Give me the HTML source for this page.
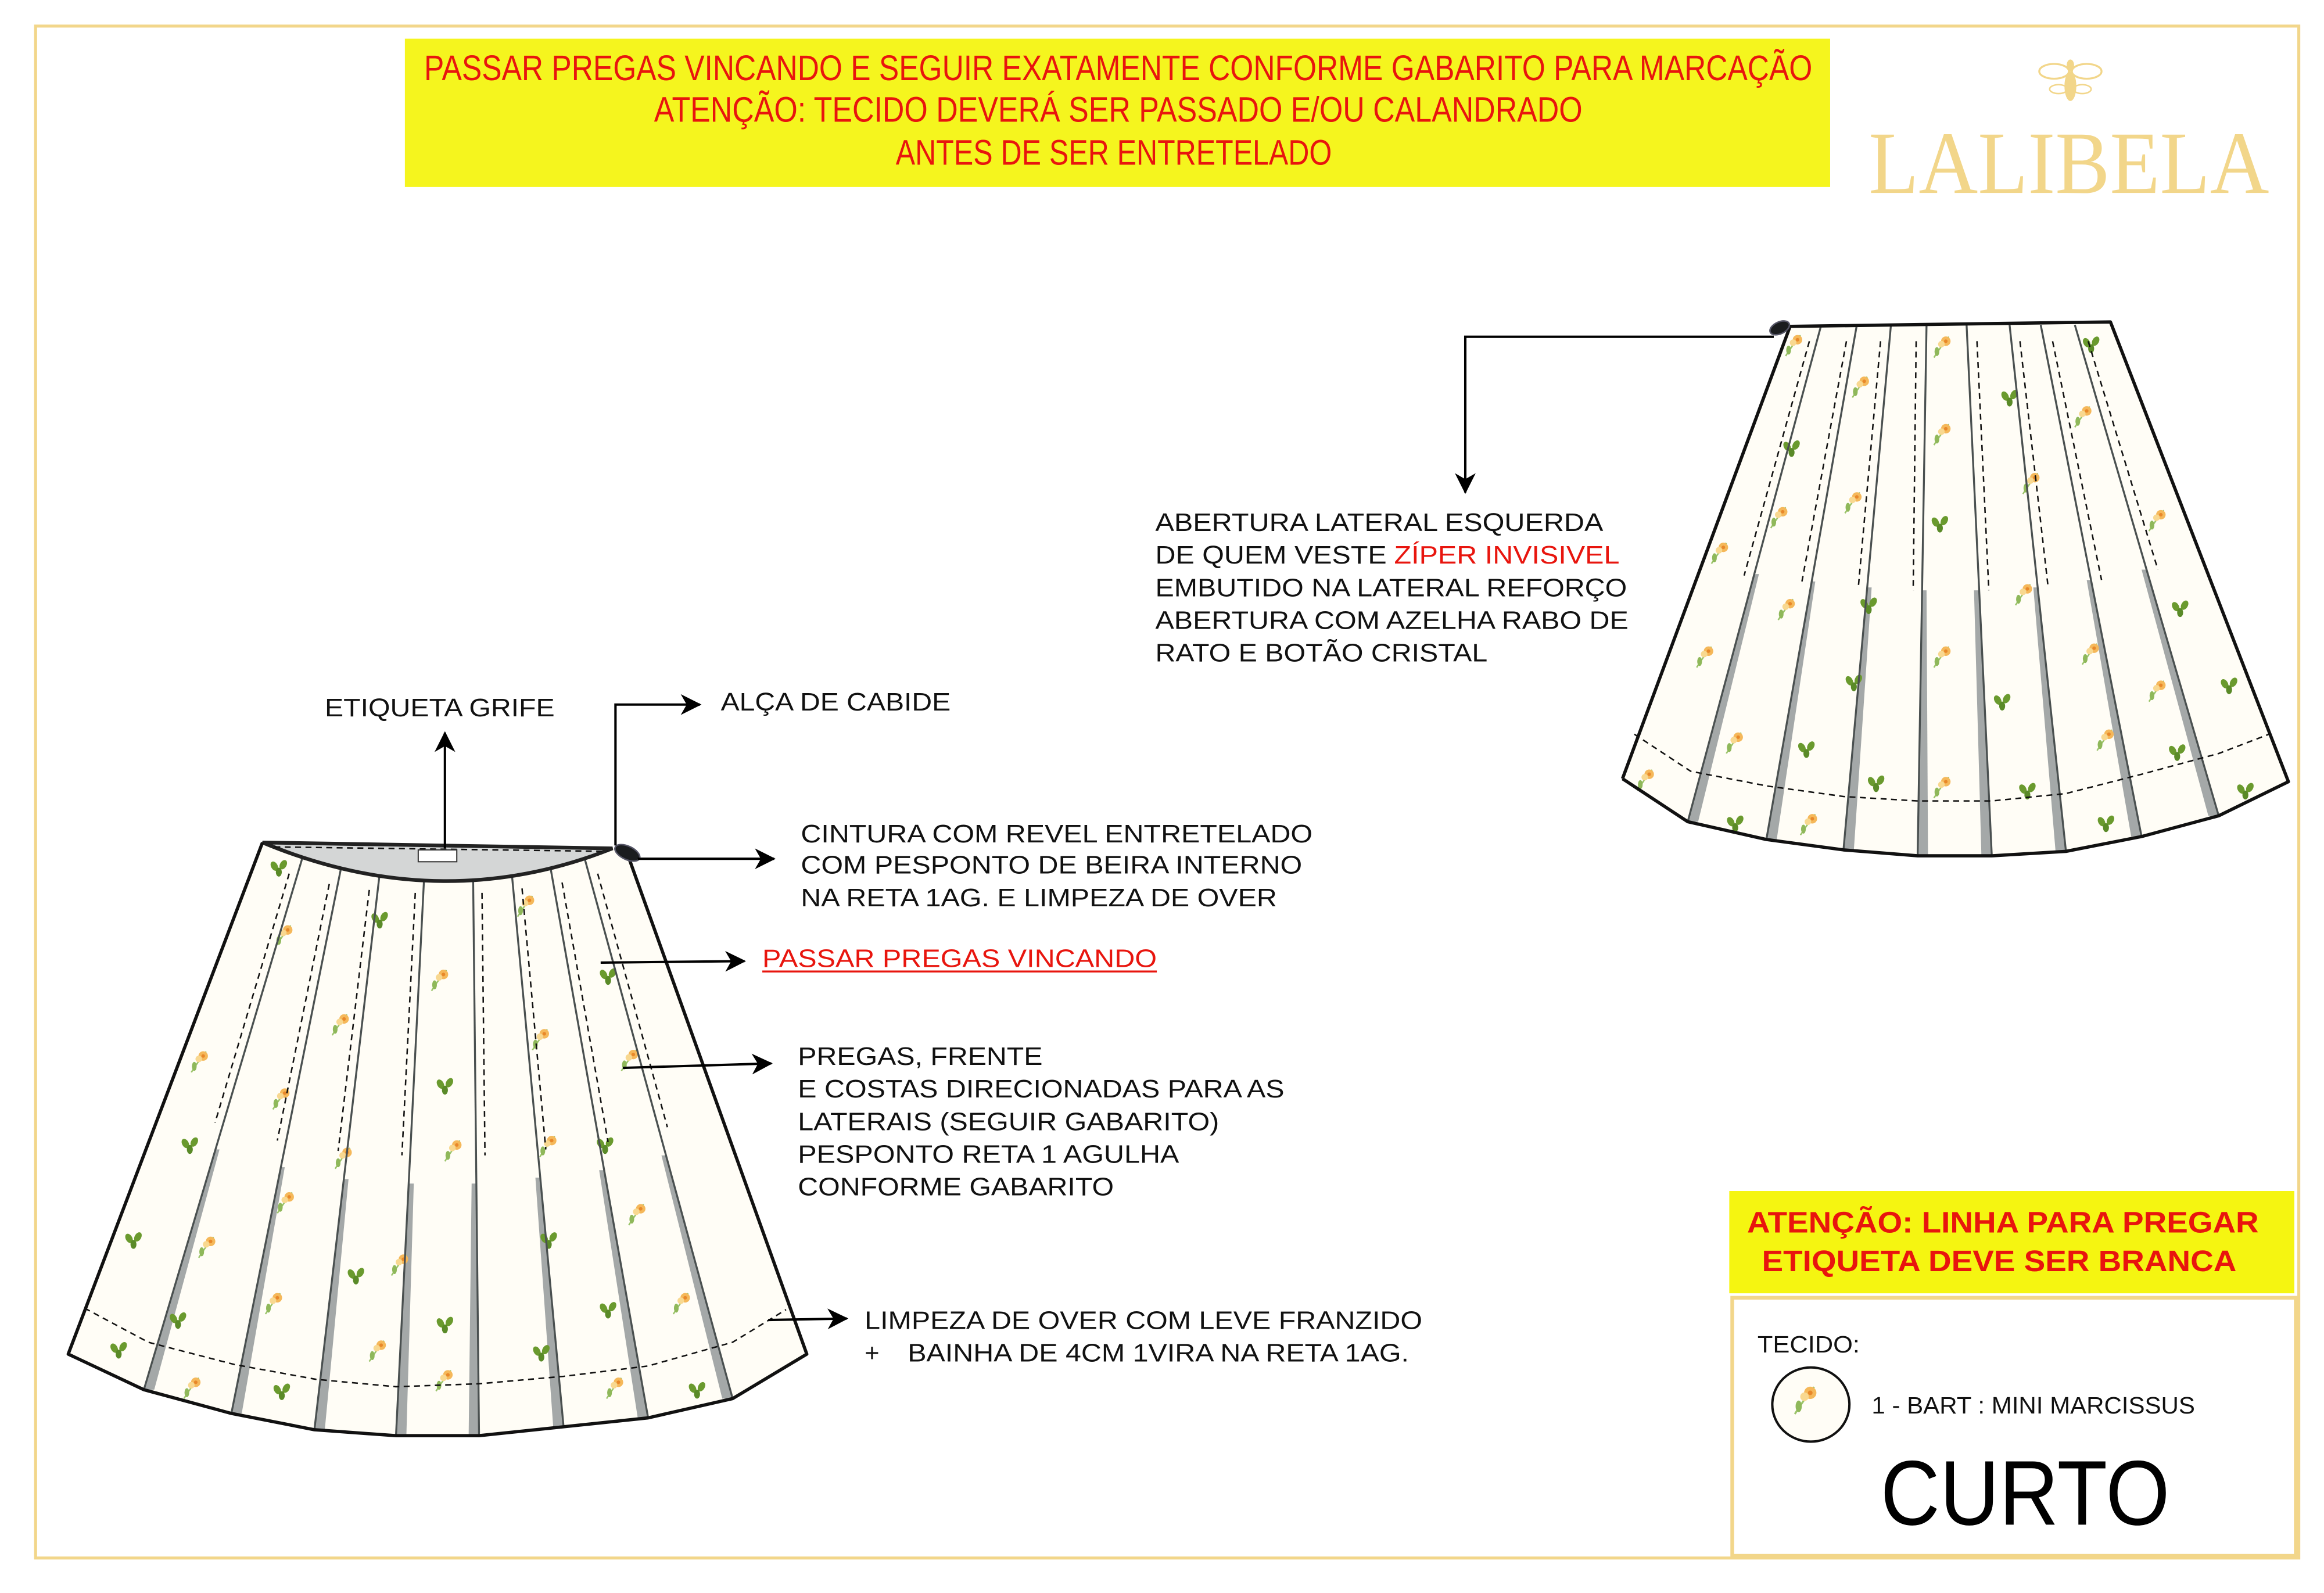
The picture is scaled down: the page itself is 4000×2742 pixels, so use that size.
<!DOCTYPE html>
<html><head><meta charset="utf-8"><style>
html,body{margin:0;padding:0;background:#fff}
svg{display:block}
text{font-family:"Liberation Sans",sans-serif}
text.serif{font-family:"Liberation Serif",serif}
</style></head><body>
<svg width="4000" height="2742" viewBox="0 0 1567 1074" xmlns="http://www.w3.org/2000/svg">
<defs>
<marker id="ah" markerWidth="16" markerHeight="16" refX="13" refY="7" orient="auto" markerUnits="userSpaceOnUse">
<path d="M0,0 L14,7 L0,14 L4,7 z" fill="#000"/>
</marker>
<symbol id="fl" viewBox="-10 -10 20 20" overflow="visible">
<path d="M-6,8 Q-1,0 4,-6" stroke="#9bc46a" stroke-width="1" fill="none"/>
<circle cx="2" cy="-3" r="3.2" fill="#f5b85a"/>
<circle cx="-1" cy="-1" r="2.2" fill="#f8d890"/>
<circle cx="2" cy="-3" r="1.2" fill="#e8882a"/>
<ellipse cx="-4" cy="4" rx="1.6" ry="3" fill="#8fb85a"/>
</symbol>
<symbol id="lf" viewBox="-10 -10 20 20" overflow="visible">
<ellipse cx="-3" cy="-1" rx="2.2" ry="3.4" fill="#6a9a2e" transform="rotate(-30 -3 -1)"/>
<ellipse cx="3" cy="-2" rx="2.2" ry="3.4" fill="#6a9a2e" transform="rotate(30 3 -2)"/>
<ellipse cx="0" cy="3" rx="2" ry="3" fill="#5a8a28"/>
</symbol>
</defs>
<rect width="1567" height="1074" fill="#fff"/>
<rect x="24" y="17.5" width="1526" height="1033" fill="none" stroke="#f2d68a" stroke-width="2"/>
<rect x="273" y="26" width="961" height="100" fill="#f5f51e"/>
<g fill="#e8150e" font-size="24">
<text x="286" y="54" textLength="936" lengthAdjust="spacingAndGlyphs">PASSAR PREGAS VINCANDO E SEGUIR EXATAMENTE CONFORME GABARITO PARA MARCAÇÃO</text>
<text x="441" y="82" textLength="626" lengthAdjust="spacingAndGlyphs">ATENÇÃO: TECIDO DEVERÁ SER PASSADO E/OU CALANDRADO</text>
<text x="604" y="111" textLength="294" lengthAdjust="spacingAndGlyphs">ANTES DE SER ENTRETELADO</text>
</g>
<g fill="#f2d68a">
<ellipse cx="1396" cy="44" rx="2.5" ry="4"/>
<ellipse cx="1396" cy="58" rx="4" ry="10"/>
<ellipse cx="1385" cy="48" rx="10" ry="5" fill="none" stroke="#f2d68a" stroke-width="1.3"/>
<ellipse cx="1407" cy="48" rx="10" ry="5" fill="none" stroke="#f2d68a" stroke-width="1.3"/>
<ellipse cx="1388" cy="60" rx="6" ry="3" fill="none" stroke="#f2d68a" stroke-width="1"/>
<ellipse cx="1404" cy="60" rx="6" ry="3" fill="none" stroke="#f2d68a" stroke-width="1"/>
<text class="serif" x="1260" y="130" font-size="60" textLength="270" lengthAdjust="spacingAndGlyphs">LALIBELA</text>
</g>

<!-- LEFT SKIRT -->
<polygon points="177,568 415,572 421,570 544,913 494,943 437,956 380,962 323,968 267,968 212,964 156,953 97,937 46,913" fill="#fffdf6"/>
<g fill="#a4a8a8">
<polygon points="145,775 97,937 104,937 148,775"/>
<polygon points="189,787 156,953 163,953 192,787"/>
<polygon points="232,795 212,964 219,964 235,795"/>
<polygon points="276,798 267,968 274,968 279,798"/>
<polygon points="318,798 316,968 323,968 321,798"/>
<polygon points="361,794 373,962 380,962 364,794"/>
<polygon points="404,789 430,956 437,956 407,789"/>
<polygon points="446,779 487,943 494,943 449,779"/>
</g>
<g>
<use href="#lf" x="178" y="575" width="20" height="20"/>
<use href="#fl" x="182" y="620" width="20" height="20"/>
<use href="#lf" x="246" y="610" width="20" height="20"/>
<use href="#fl" x="345" y="600" width="20" height="20"/>
<use href="#fl" x="287" y="650" width="20" height="20"/>
<use href="#fl" x="220" y="680" width="20" height="20"/>
<use href="#lf" x="400" y="648" width="20" height="20"/>
<use href="#fl" x="355" y="690" width="20" height="20"/>
<use href="#fl" x="415" y="704" width="20" height="20"/>
<use href="#fl" x="125" y="705" width="20" height="20"/>
<use href="#lf" x="290" y="722" width="20" height="20"/>
<use href="#fl" x="180" y="730" width="20" height="20"/>
<use href="#lf" x="118" y="762" width="20" height="20"/>
<use href="#lf" x="398" y="762" width="20" height="20"/>
<use href="#fl" x="360" y="762" width="20" height="20"/>
<use href="#fl" x="222" y="770" width="20" height="20"/>
<use href="#fl" x="296" y="765" width="20" height="20"/>
<use href="#fl" x="183" y="800" width="20" height="20"/>
<use href="#fl" x="420" y="808" width="20" height="20"/>
<use href="#lf" x="80" y="826" width="20" height="20"/>
<use href="#fl" x="130" y="830" width="20" height="20"/>
<use href="#lf" x="360" y="826" width="20" height="20"/>
<use href="#fl" x="260" y="842" width="20" height="20"/>
<use href="#lf" x="230" y="850" width="20" height="20"/>
<use href="#fl" x="450" y="868" width="20" height="20"/>
<use href="#fl" x="175" y="868" width="20" height="20"/>
<use href="#lf" x="400" y="873" width="20" height="20"/>
<use href="#lf" x="110" y="880" width="20" height="20"/>
<use href="#lf" x="290" y="883" width="20" height="20"/>
<use href="#fl" x="245" y="900" width="20" height="20"/>
<use href="#lf" x="70" y="900" width="20" height="20"/>
<use href="#lf" x="355" y="902" width="20" height="20"/>
<use href="#fl" x="290" y="920" width="20" height="20"/>
<use href="#lf" x="180" y="928" width="20" height="20"/>
<use href="#fl" x="120" y="925" width="20" height="20"/>
<use href="#fl" x="405" y="925" width="20" height="20"/>
<use href="#lf" x="460" y="927" width="20" height="20"/>
</g>
<g stroke="#4a5050" stroke-width="1.3">
<line x1="204" y1="578" x2="97" y2="937"/>
<line x1="230" y1="585" x2="156" y2="953"/>
<line x1="256" y1="589" x2="212" y2="964"/>
<line x1="286" y1="591" x2="267" y2="968"/>
<line x1="319" y1="591" x2="323" y2="968"/>
<line x1="345" y1="588" x2="380" y2="962"/>
<line x1="371" y1="584" x2="437" y2="956"/>
<line x1="394" y1="578" x2="494" y2="943"/>
</g>
<g stroke="#111" stroke-width="1" stroke-dasharray="4,3" fill="none">
<line x1="195" y1="589" x2="145" y2="757"/>
<line x1="222" y1="596" x2="187" y2="769"/>
<line x1="249" y1="600" x2="228" y2="776"/>
<line x1="280" y1="602" x2="271" y2="779"/>
<line x1="325" y1="602" x2="327" y2="779"/>
<line x1="352" y1="599" x2="368" y2="775"/>
<line x1="379" y1="595" x2="410" y2="770"/>
<line x1="403" y1="589" x2="450" y2="760"/>
<polyline points="57,882 100,905 158,920 213,930 267,935 323,933 380,928 437,921 494,905 530,883"/>
</g>
<path d="M177,568 Q297,618 413,572 Z" fill="#d4d6d6" stroke="#222" stroke-width="2.5"/>
<line x1="185" y1="571" x2="410" y2="574" stroke="#111" stroke-width="1" stroke-dasharray="4,3"/>
<rect x="282" y="573" width="26" height="8" fill="#fff" stroke="#333" stroke-width="0.8"/>
<polyline points="421,570 544,913 494,943 437,956 380,962 323,968 267,968 212,964 156,953 97,937 46,913 177,568" fill="none" stroke="#111" stroke-width="2.2" stroke-linejoin="round"/>
<ellipse cx="423" cy="575" rx="9" ry="4.5" transform="rotate(25 423 575)" fill="#1a1c1e" stroke="#556" stroke-width="1"/>
<g stroke="#000" stroke-width="1.6" fill="none">
<line x1="300" y1="572" x2="300" y2="494" marker-end="url(#ah)"/>
<polyline points="415,570 415,475 472,475" marker-end="url(#ah)"/>
<line x1="430" y1="579" x2="522" y2="579" marker-end="url(#ah)"/>
<line x1="405" y1="649" x2="502" y2="648" marker-end="url(#ah)"/>
<line x1="420" y1="720" x2="520" y2="717" marker-end="url(#ah)"/>
<line x1="518" y1="890" x2="571" y2="889" marker-end="url(#ah)"/>
</g>
<g font-size="17" fill="#111">
<text x="219" y="483" textLength="155" lengthAdjust="spacingAndGlyphs">ETIQUETA GRIFE</text>
<text x="486" y="479" textLength="155" lengthAdjust="spacingAndGlyphs">ALÇA DE CABIDE</text>
<text x="540" y="568" textLength="345" lengthAdjust="spacingAndGlyphs">CINTURA COM REVEL ENTRETELADO</text>
<text x="540" y="589" textLength="338" lengthAdjust="spacingAndGlyphs">COM PESPONTO DE BEIRA INTERNO</text>
<text x="540" y="611" textLength="321" lengthAdjust="spacingAndGlyphs">NA RETA 1AG. E LIMPEZA DE OVER</text>
<text x="514" y="652" fill="#e8150e" textLength="266" lengthAdjust="spacingAndGlyphs">PASSAR PREGAS VINCANDO</text>
<text x="538" y="718" textLength="165" lengthAdjust="spacingAndGlyphs">PREGAS, FRENTE</text>
<text x="538" y="740" textLength="328" lengthAdjust="spacingAndGlyphs">E COSTAS DIRECIONADAS PARA AS</text>
<text x="538" y="762" textLength="284" lengthAdjust="spacingAndGlyphs">LATERAIS (SEGUIR GABARITO)</text>
<text x="538" y="784" textLength="257" lengthAdjust="spacingAndGlyphs">PESPONTO RETA 1 AGULHA</text>
<text x="538" y="806" textLength="213" lengthAdjust="spacingAndGlyphs">CONFORME GABARITO</text>
<text x="583" y="896" textLength="376" lengthAdjust="spacingAndGlyphs">LIMPEZA DE OVER COM LEVE FRANZIDO</text>
<text x="583" y="918">+</text>
<text x="612" y="918" textLength="338" lengthAdjust="spacingAndGlyphs">BAINHA DE 4CM 1VIRA NA RETA 1AG.</text>
<text x="779" y="358" textLength="302" lengthAdjust="spacingAndGlyphs">ABERTURA LATERAL ESQUERDA</text>
<text x="779" y="380" textLength="156" lengthAdjust="spacingAndGlyphs">DE QUEM VESTE</text>
<text x="940" y="380" fill="#e8150e" textLength="152" lengthAdjust="spacingAndGlyphs">ZÍPER INVISIVEL</text>
<text x="779" y="402" textLength="318" lengthAdjust="spacingAndGlyphs">EMBUTIDO NA LATERAL REFORÇO</text>
<text x="779" y="424" textLength="319" lengthAdjust="spacingAndGlyphs">ABERTURA COM AZELHA RABO DE</text>
<text x="779" y="446" textLength="224" lengthAdjust="spacingAndGlyphs">RATO E BOTÃO CRISTAL</text>
</g>
<line x1="514" y1="655" x2="780" y2="655" stroke="#e8150e" stroke-width="1.3"/>

<!-- RIGHT SKIRT -->
<polygon points="1207,220 1423,217 1543,527 1496,550 1444,564 1393,574 1343,577 1293,577 1243,573 1191,566 1138,554 1094,525" fill="#fffdf6"/>
<g fill="#a4a8a8">
<polygon points="1183,387 1138,554 1145,554 1186,387"/>
<polygon points="1221,392 1191,566 1198,566 1224,392"/>
<polygon points="1259,396 1243,573 1250,573 1262,396"/>
<polygon points="1296,398 1293,577 1300,577 1299,398"/>
<polygon points="1331,398 1336,577 1343,577 1334,398"/>
<polygon points="1371,396 1386,574 1393,574 1374,396"/>
<polygon points="1407,391 1437,564 1444,564 1410,391"/>
<polygon points="1444,384 1489,550 1496,550 1447,384"/>
</g>
<g>
<use href="#fl" x="1200" y="222" width="20" height="20"/>
<use href="#lf" x="1400" y="222" width="20" height="20"/>
<use href="#fl" x="1300" y="223" width="20" height="20"/>
<use href="#fl" x="1245" y="250" width="20" height="20"/>
<use href="#lf" x="1345" y="258" width="20" height="20"/>
<use href="#fl" x="1395" y="270" width="20" height="20"/>
<use href="#lf" x="1198" y="292" width="20" height="20"/>
<use href="#fl" x="1300" y="282" width="20" height="20"/>
<use href="#fl" x="1360" y="315" width="20" height="20"/>
<use href="#fl" x="1240" y="328" width="20" height="20"/>
<use href="#fl" x="1190" y="338" width="20" height="20"/>
<use href="#lf" x="1298" y="343" width="20" height="20"/>
<use href="#fl" x="1445" y="340" width="20" height="20"/>
<use href="#fl" x="1150" y="362" width="20" height="20"/>
<use href="#fl" x="1355" y="390" width="20" height="20"/>
<use href="#lf" x="1250" y="398" width="20" height="20"/>
<use href="#lf" x="1460" y="400" width="20" height="20"/>
<use href="#fl" x="1195" y="400" width="20" height="20"/>
<use href="#fl" x="1300" y="432" width="20" height="20"/>
<use href="#fl" x="1400" y="430" width="20" height="20"/>
<use href="#fl" x="1140" y="432" width="20" height="20"/>
<use href="#lf" x="1240" y="450" width="20" height="20"/>
<use href="#fl" x="1445" y="455" width="20" height="20"/>
<use href="#lf" x="1493" y="452" width="20" height="20"/>
<use href="#lf" x="1340" y="463" width="20" height="20"/>
<use href="#fl" x="1160" y="490" width="20" height="20"/>
<use href="#fl" x="1410" y="488" width="20" height="20"/>
<use href="#lf" x="1208" y="495" width="20" height="20"/>
<use href="#fl" x="1300" y="520" width="20" height="20"/>
<use href="#lf" x="1458" y="497" width="20" height="20"/>
<use href="#lf" x="1255" y="518" width="20" height="20"/>
<use href="#lf" x="1357" y="523" width="20" height="20"/>
<use href="#lf" x="1504" y="523" width="20" height="20"/>
<use href="#lf" x="1160" y="545" width="20" height="20"/>
<use href="#lf" x="1410" y="545" width="20" height="20"/>
<use href="#fl" x="1210" y="545" width="20" height="20"/>
<use href="#fl" x="1100" y="515" width="20" height="20"/>
</g>
<g stroke="#4a5050" stroke-width="1.3">
<line x1="1228" y1="219" x2="1138" y2="554"/>
<line x1="1252" y1="219" x2="1191" y2="566"/>
<line x1="1275" y1="219" x2="1243" y2="573"/>
<line x1="1299" y1="219" x2="1293" y2="577"/>
<line x1="1326" y1="219" x2="1343" y2="577"/>
<line x1="1355" y1="219" x2="1393" y2="574"/>
<line x1="1376" y1="219" x2="1444" y2="564"/>
<line x1="1399" y1="219" x2="1496" y2="550"/>
</g>
<g stroke="#111" stroke-width="1" stroke-dasharray="4,3" fill="none">
<line x1="1220" y1="230" x2="1176" y2="388"/>
<line x1="1245" y1="230" x2="1215" y2="392"/>
<line x1="1268" y1="230" x2="1253" y2="396"/>
<line x1="1292" y1="230" x2="1290" y2="398"/>
<line x1="1333" y1="230" x2="1341" y2="398"/>
<line x1="1362" y1="230" x2="1381" y2="396"/>
<line x1="1384" y1="230" x2="1417" y2="391"/>
<line x1="1408" y1="230" x2="1455" y2="384"/>
<polyline points="1102,495 1140,520 1192,530 1243,537 1293,540 1343,540 1393,535 1444,522 1496,508 1530,495"/>
</g>
<polyline points="1094,525 1207,220 1423,217 1543,527 1496,550 1444,564 1393,574 1343,577 1293,577 1243,573 1191,566 1138,554 1094,525" fill="none" stroke="#111" stroke-width="2.2" stroke-linejoin="round"/>
<ellipse cx="1200" cy="221" rx="7" ry="4" transform="rotate(-25 1200 221)" fill="#1a1c1e" stroke="#556" stroke-width="1"/>
<polyline points="1196,227 988,227 988,332" fill="none" stroke="#000" stroke-width="1.6" marker-end="url(#ah)"/>

<rect x="1166" y="803" width="381" height="69" fill="#f5f511"/>
<g fill="#e8150e" font-size="20" font-weight="bold">
<text x="1178" y="831" textLength="345" lengthAdjust="spacingAndGlyphs">ATENÇÃO: LINHA PARA PREGAR</text>
<text x="1188" y="857" textLength="320" lengthAdjust="spacingAndGlyphs">ETIQUETA DEVE SER BRANCA</text>
</g>
<rect x="1168" y="875" width="380" height="174" fill="#fff" stroke="#f2d68a" stroke-width="2.5"/>
<text x="1185" y="912" font-size="16" fill="#111" textLength="69" lengthAdjust="spacingAndGlyphs">TECIDO:</text>
<ellipse cx="1221" cy="947" rx="26" ry="25" fill="#fffdf6" stroke="#111" stroke-width="1.6"/>
<use href="#fl" x="1205" y="930" width="26" height="26"/>
<text x="1262" y="953" font-size="16" fill="#111" textLength="218" lengthAdjust="spacingAndGlyphs">1 - BART : MINI MARCISSUS</text>
<text x="1268" y="1028" font-size="62" fill="#000" textLength="195" lengthAdjust="spacingAndGlyphs">CURTO</text>
</svg>
</body></html>
